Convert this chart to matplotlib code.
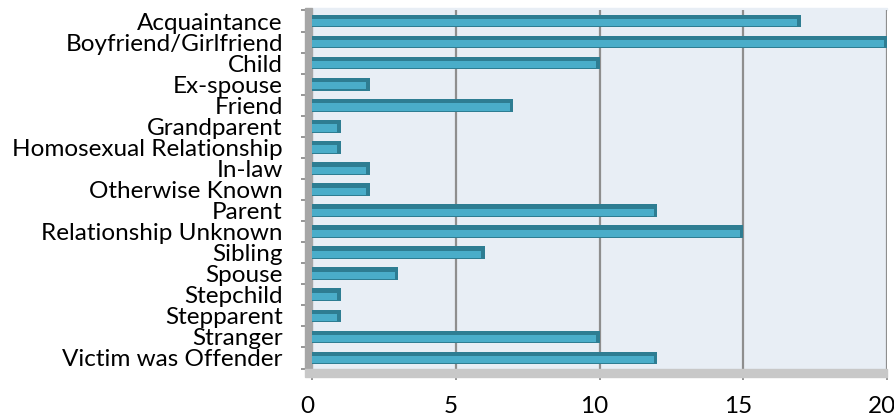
import matplotlib
matplotlib.use('Agg')
import matplotlib.pyplot as plt
from matplotlib.patches import Rectangle
import matplotlib.transforms as mtransforms
import numpy as np

# chart data
categories = ['Acquaintance', 'Boyfriend/Girlfriend', 'Child', 'Ex-spouse', 'Friend',
              'Grandparent', 'Homosexual Relationship', 'In-law', 'Otherwise Known',
              'Parent', 'Relationship Unknown', 'Sibling', 'Spouse', 'Stepchild',
              'Stepparent', 'Stranger', 'Victim was Offender']
counts = [17, 20, 10, 2, 7, 1, 1, 2, 2, 12, 15, 6, 3, 1, 1, 10, 12]
x_ticks = [0, 5, 10, 15, 20]

plt.rcParams['font.family'] = ['Lato', 'DejaVu Sans']

fig = plt.figure(figsize=(8.95, 4.19), dpi=100)
ax = fig.add_axes([312/895, 1 - 368.5/419, 575/895, 358/419])
ax.set_facecolor('#E8EEF5')

y = np.arange(len(categories))

# gridlines on back wall
for t in x_ticks[1:]:
    ax.axvline(t, color='#8E8E8E', lw=1.6, zorder=1)

# bars: dark shell + lighter face
ax.barh(y, counts, height=0.6, color='#2E7D92', zorder=3)
ax.barh(y + 0.08, [c - 0.12 for c in counts], height=0.34, color='#4AADC9', zorder=4)

ax.set_xlim(0, 20)
ax.set_ylim(len(categories) - 0.5, -0.5)

# side wall and floor (fake 3d look)
trans = ax.transAxes
ax.add_patch(Rectangle((0, 1), 1, 0.008, transform=trans, color='#E8EEF5',
                       clip_on=False, zorder=0))
ax.add_patch(Rectangle((-0.012, 0), 0.012, 1.008, transform=trans, color='#A6A6A6',
                       clip_on=False, zorder=2))
ax.add_patch(Rectangle((-0.012, -0.025), 1.012, 0.025, transform=trans, color='#C8C8C8',
                       clip_on=False, zorder=2))

for s in ax.spines.values():
    s.set_visible(False)

ax.set_yticks(y)
ax.set_yticklabels(categories, fontsize=17.5)
ax.set_yticks(np.arange(len(categories) + 1) - 0.5, minor=True)
ax.tick_params(axis='y', which='major', length=0, pad=21)
ax.tick_params(axis='y', which='minor', length=8, color='#8E8E8E', width=1.3)

ax.set_xticks(x_ticks)
ax.set_xticklabels([str(t) for t in x_ticks], fontsize=17.5)
ax.tick_params(axis='x', length=8, color='#8E8E8E', width=1.3, pad=12)
shift = mtransforms.ScaledTranslation(-5/100, 0, fig.dpi_scale_trans)
for lbl in ax.get_xticklabels():
    lbl.set_transform(lbl.get_transform() + shift)

fig.savefig('out.png', dpi=100)
